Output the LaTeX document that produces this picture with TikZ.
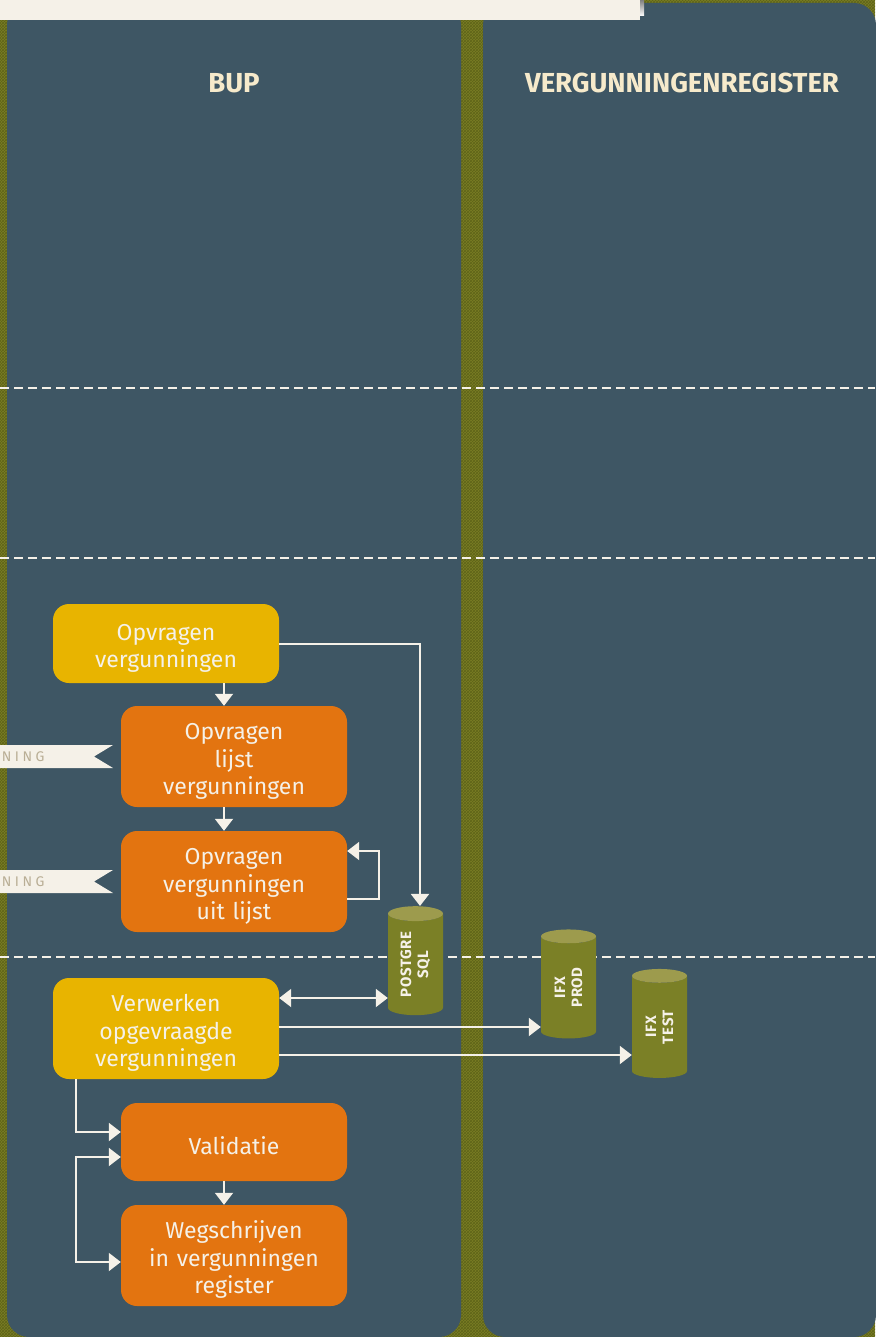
\documentclass[tikz,border=0pt]{standalone}
\usepackage{fontspec}
\setmainfont{Fira Sans}
\newfontfamily\dbfont{Fira Sans}[LetterSpace=4]
\newfontfamily\flagfont{Fira Sans}[LetterSpace=25]
\usetikzlibrary{arrows.meta,shapes.geometric,patterns}
\definecolor{olivebg}{HTML}{7A7E24}
\definecolor{olivedark}{HTML}{5F6419}
\definecolor{lanecol}{HTML}{3E5664}
\definecolor{cream}{HTML}{F5F1E8}
\definecolor{titlecol}{HTML}{F6EACB}
\definecolor{ochre}{HTML}{E8B400}
\definecolor{tangerine}{HTML}{E37410}
\definecolor{dbbody}{HTML}{7B8026}
\definecolor{dbtop}{HTML}{9D9B4D}
\definecolor{flagtext}{HTML}{B9AE95}
\definecolor{shade}{HTML}{D5CBBA}

\begin{document}
\begin{tikzpicture}[x=1pt, y=-1pt,
    lane/.style={fill=lanecol, rounded corners=22pt},
    stepbox/.style={rounded corners=16pt, minimum width=226pt, text width=215pt,
        align=center, text=cream, inner sep=0pt, font=\fontsize{23}{27.5}\selectfont,
        execute at begin node={\rule{0pt}{26pt}}},
    yellowbox/.style={stepbox, fill=ochre},
    orangebox/.style={stepbox, fill=tangerine},
    db/.style={cylinder, rotate=90, aspect=0.5, minimum width=55pt, minimum height=109pt,
        inner sep=0pt, cylinder uses custom fill, cylinder body fill=dbbody,
        cylinder end fill=dbtop, align=center, text=cream,
        font=\dbfont\bfseries\fontsize{15}{17}\selectfont},
    title/.style={text=titlecol, font=\bfseries\fontsize{27.5}{30}\selectfont},
    flagtxt/.style={text=flagtext, font=\flagfont\fontsize{14}{14}\selectfont},
    arr/.style={-{Triangle[length=12pt, width=18pt]}, line width=2pt, draw=cream},
    arrboth/.style={{Triangle[length=12pt, width=18pt]}-{Triangle[length=12pt, width=18pt]},
        line width=2pt, draw=cream},
    sep/.style={draw=cream, line width=1.6pt, dash pattern=on 9pt off 5pt},
]
\useasboundingbox (0,0) rectangle (875,1337);

% background and lanes
\fill[olivebg] (0,0) rectangle (875,1337);
\fill[pattern=crosshatch, pattern color=olivedark] (0,0) rectangle (875,1337);
\fill[lane] (7,3) rectangle (461,1337);
\fill[lane] (483,3) rectangle (876,1337);
\fill[shade] (0,0) rectangle (644,16);
\fill[cream] (0,0) rectangle (640,20);

\node[title] (bup) at (234,83) {BUP};
\node[title] (vreg) at (682,83) {VERGUNNINGENREGISTER};

% phase separators
\draw[sep] (0,388) -- (875,388);
\draw[sep] (0,558) -- (875,558);
\draw[sep] (0,957) -- (875,957);

% flags on the left edge
\fill[cream] (0,745) -- (113,745) -- (94,756.5) -- (113,768) -- (0,768) -- cycle;
\node[flagtxt, anchor=east] (flagA) at (48,757) {NING};
\fill[cream] (0,870) -- (113,870) -- (94,881.5) -- (113,893) -- (0,893) -- cycle;
\node[flagtxt, anchor=east] (flagB) at (48,882) {NING};

% process steps
\node[yellowbox, minimum height=79pt] (opvr) at (166,643.5) {Opvragen\\vergunningen};
\node[orangebox, minimum height=101pt] (lijst) at (234,756.5) {Opvragen\\lijst\\vergunningen};
\node[orangebox, minimum height=101pt] (uitlijst) at (234,881.5) {Opvragen\\vergunningen\\uit lijst};
\node[yellowbox, minimum height=101pt] (verw) at (166,1028.5) {Verwerken\\opgevraagde\\vergunningen};
\node[orangebox, minimum height=78pt] (valid) at (234,1142) {Validatie};
\node[orangebox, minimum height=101pt] (wegschr) at (234,1255.5) {Wegschrijven\\in vergunningen\\register};

% databases
\node[db] (pgsql) at (415.5,964.5) {POSTGRE\\SQL};
\node[db] (ifxprod) at (568.5,987.5) {IFX\\PROD};
\node[db] (ifxtest) at (659.5,1027) {IFX\\TEST};

% flow
\draw[arr] (opvr.east) -| ([xshift=4.5pt]pgsql.east);
\draw[arr] ([xshift=-10pt]lijst.north |- opvr.south) -- ([xshift=-10pt]lijst.north);
\draw[arr] ([xshift=-10pt]uitlijst.north |- lijst.south) -- ([xshift=-10pt]uitlijst.north);
\draw[arr] ([yshift=-17.5pt]uitlijst.east) -- ++(32,0) |- ([yshift=30.5pt]uitlijst.east);
\draw[arrboth] (verw.east |- 0,998) -- (pgsql.north |- 0,998);
\draw[arr] (verw.east |- 0,1027) -- (ifxprod.north |- 0,1027);
\draw[arr] (verw.east |- 0,1055) -- (ifxtest.north |- 0,1055);
\draw[arr] ([xshift=-90pt]verw.south) |- ([yshift=10pt]valid.west);
\draw[arrboth] ([yshift=-15pt]valid.west) -- ++(-45,0) |- ([yshift=-6.5pt]wegschr.west);
\draw[arr] ([xshift=-10pt]wegschr.north |- valid.south) -- ([xshift=-10pt]wegschr.north);
\end{tikzpicture}
\end{document}
